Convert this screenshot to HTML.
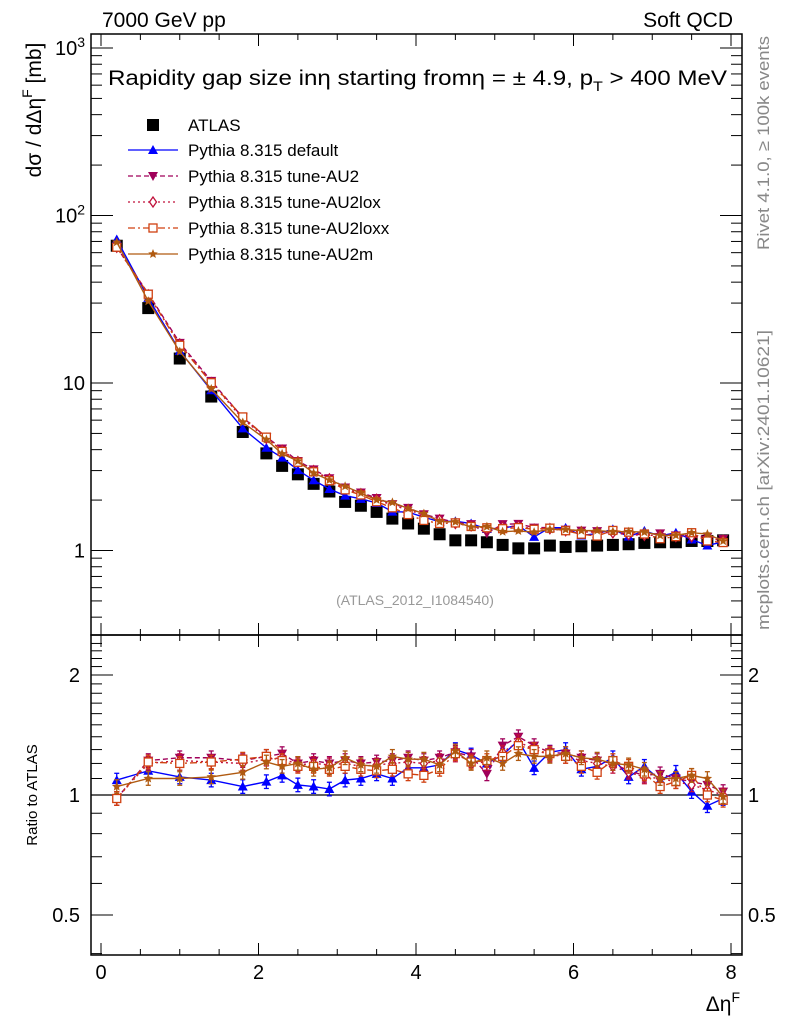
<!DOCTYPE html>
<html><head><meta charset="utf-8">
<style>
body{margin:0;background:#fff;}
svg{display:block;font-family:"Liberation Sans",sans-serif;}
</style></head>
<body>
<svg id="c" width="786" height="1024" viewBox="0 0 786 1024"></svg>
<script>
const xs=[0.2,0.6,1.0,1.4,1.8,2.1,2.3,2.5,2.7,2.9,3.1,3.3,3.5,3.7,3.9,4.1,4.3,4.5,4.7,4.9,5.1,5.3,5.5,5.7,5.9,6.1,6.3,6.5,6.7,6.9,7.1,7.3,7.5,7.7,7.9];
const atlas=[66,28,14,8.3,5.1,3.8,3.2,2.85,2.5,2.25,1.95,1.85,1.7,1.55,1.45,1.35,1.25,1.15,1.15,1.12,1.08,1.03,1.03,1.07,1.05,1.06,1.07,1.08,1.09,1.11,1.12,1.12,1.14,1.14,1.15];
const rDefault=[1.09,1.15,1.11,1.09,1.05,1.08,1.12,1.06,1.05,1.035,1.09,1.10,1.13,1.10,1.17,1.17,1.19,1.30,1.26,1.20,1.26,1.37,1.17,1.28,1.30,1.16,1.18,1.24,1.11,1.18,1.09,1.14,1.02,0.94,0.98];
const rAU2=[0.98,1.22,1.24,1.24,1.22,1.25,1.27,1.20,1.22,1.20,1.22,1.20,1.21,1.22,1.24,1.22,1.24,1.28,1.25,1.13,1.33,1.40,1.33,1.28,1.27,1.24,1.22,1.20,1.15,1.12,1.13,1.10,1.08,1.06,1.02];
const rAU2lox=[0.98,1.20,1.22,1.21,1.20,1.23,1.24,1.19,1.20,1.19,1.20,1.18,1.19,1.20,1.21,1.20,1.22,1.26,1.22,1.20,1.28,1.36,1.30,1.26,1.25,1.22,1.20,1.18,1.14,1.11,1.10,1.08,1.06,1.03,1.00];
const rAU2loxx=[0.98,1.21,1.20,1.21,1.23,1.25,1.22,1.18,1.18,1.16,1.18,1.16,1.15,1.16,1.13,1.12,1.16,1.27,1.21,1.22,1.25,1.33,1.30,1.27,1.25,1.18,1.14,1.22,1.18,1.13,1.05,1.08,1.12,1.00,0.97];
const rAU2m=[1.05,1.10,1.10,1.11,1.14,1.21,1.18,1.20,1.16,1.17,1.24,1.19,1.18,1.25,1.23,1.23,1.19,1.29,1.20,1.24,1.20,1.27,1.25,1.25,1.27,1.24,1.23,1.20,1.19,1.16,1.10,1.10,1.12,1.10,0.99];
const xTicks=[0,2,4,6,8];
const yMainTicks=[1,10,100,1000];
const yRatioTicks=[0.5,1,2];

const svg=document.getElementById('c');
const NS='http://www.w3.org/2000/svg';
function mk(tag,at,parent){const e=document.createElementNS(NS,tag);for(const k in at)e.setAttribute(k,at[k]);(parent||svg).appendChild(e);return e;}
const L=91,R=742,T=34,M=635,B=955;
const X=v=>101+v*78.75;
const YM=v=>550.5-Math.log10(v)*167.5;
const YR=v=>795-Math.log10(v)*398.6;

let f1=mk('rect',{x:L,y:T,width:R-L,height:M-T,fill:'none',stroke:'#000','stroke-width':1.5});

let f2=mk('rect',{x:L,y:M,width:R-L,height:B-M,fill:'none',stroke:'#000','stroke-width':1.5});


const gx=mk('g',{stroke:'#000','stroke-width':1});

for(let v=0;v<=8.1;v+=0.5){const big=Math.abs(v-Math.round(v/2)*2)<1e-6;const len=big?12:6;const x=X(v);
 mk('line',{x1:x,x2:x,y1:T,y2:T+len},gx);mk('line',{x1:x,x2:x,y1:M,y2:M-len},gx);
 mk('line',{x1:x,x2:x,y1:M,y2:M+len},gx);mk('line',{x1:x,x2:x,y1:B,y2:B-len},gx);}
xTicks.forEach(v=>{const t=mk('text',{x:X(v),y:979,'font-size':20,'text-anchor':'middle'});t.textContent=v;
 });
const xl=mk('text',{x:740,y:1011,'font-size':21,'text-anchor':'end'});xl.innerHTML='Δη<tspan dy="-9" font-size="14">F</tspan>';


const gy=mk('g',{stroke:'#000','stroke-width':1});

for(let d=-1;d<=3;d++)for(let m=1;m<=9;m++){const v=m*Math.pow(10,d);const y=YM(v);if(y<T||y>M)continue;const len=m==1?22:11;
 mk('line',{x1:L,x2:L+len,y1:y,y2:y},gy);mk('line',{x1:R,x2:R-len,y1:y,y2:y},gy);}
yMainTicks.forEach(v=>{const t=mk('text',{x:85,y:YM(v)+7,'font-size':20,'text-anchor':'end'});
 if(v>=100)t.innerHTML='10<tspan dy="-8" font-size="14">'+Math.log10(v)+'</tspan>';else t.textContent=v;
 });
for(let v=0.4;v<=2.5;v+=0.1){const y=YR(v);if(y<M||y>B)continue;const big=[0.5,1,2].some(k=>Math.abs(k-v)<1e-6);const len=big?22:11;
 mk('line',{x1:L,x2:L+len,y1:y,y2:y},gy);mk('line',{x1:R,x2:R-len,y1:y,y2:y},gy);}
yRatioTicks.forEach(v=>{[[80,'end'],[748,'start']].forEach(([x,a])=>{const t=mk('text',{x:x,y:YR(v)+7,'font-size':20,'text-anchor':a});t.textContent=v;
 });});
const one=mk('line',{x1:L,x2:R,y1:YR(1),y2:YR(1),stroke:'#000','stroke-width':1.2});


function txt(s,at,name){const t=mk('text',at);t.innerHTML=s;return t;}
txt('7000 GeV pp',{x:102,y:27,'font-size':21},'energy-label');
txt('Soft QCD',{x:733,y:27,'font-size':21,'text-anchor':'end'},'process-label');
txt('Rapidity gap size inη starting fromη = ± 4.9, p<tspan dy="6" font-size="14">T</tspan><tspan dy="-6"> &gt; 400 MeV</tspan>',{x:108,y:85,'font-size':21,'textLength':619,'lengthAdjust':'spacingAndGlyphs'},'plot-title');
txt('dσ / dΔη<tspan dy="-9" font-size="14">F</tspan><tspan dy="9"> [mb]</tspan>',{x:0,y:0,'font-size':21,'text-anchor':'middle',transform:'translate(41,110) rotate(-90)'},'y-axis-title');
txt('Ratio to ATLAS',{x:0,y:0,'font-size':15,'text-anchor':'middle',transform:'translate(37,795) rotate(-90)'},'ratio-axis-title');
txt('Rivet 4.1.0, ≥ 100k events',{x:0,y:0,'font-size':17,'fill':'#888','text-anchor':'end','textLength':214,'lengthAdjust':'spacingAndGlyphs',transform:'translate(769,36) rotate(-90)'},'rivet-label');
txt('mcplots.cern.ch [arXiv:2401.10621]',{x:0,y:0,'font-size':17,'fill':'#888','text-anchor':'end','textLength':300,'lengthAdjust':'spacingAndGlyphs',transform:'translate(769,330) rotate(-90)'},'mcplots-label');
txt('(ATLAS_2012_I1084540)',{x:415,y:605,'font-size':14,'fill':'#999','text-anchor':'middle'},'analysis-id');

function marker(g,type,x,y,col,s){
 if(type=='sq')return mk('rect',{x:x-s,y:y-s,width:2*s,height:2*s,fill:col},g);
 if(type=='up')return mk('polygon',{points:`${x},${y-s} ${x-s},${y+s*0.8} ${x+s},${y+s*0.8}`,fill:col},g);
 if(type=='dn')return mk('polygon',{points:`${x},${y+s} ${x-s},${y-s*0.8} ${x+s},${y-s*0.8}`,fill:col},g);
 if(type=='dia')return mk('polygon',{points:`${x},${y-s} ${x+s*0.7},${y} ${x},${y+s} ${x-s*0.7},${y}`,fill:'#fff',stroke:col,'stroke-width':1.3},g);
 if(type=='osq')return mk('rect',{x:x-s*0.8,y:y-s*0.8,width:1.6*s,height:1.6*s,fill:'#fff',stroke:col,'stroke-width':1.3},g);
 if(type=='star'){let p=[];for(let i=0;i<10;i++){const r=i%2?s*0.45:s;const a=-Math.PI/2+i*Math.PI/5;p.push((x+r*Math.cos(a)).toFixed(1)+','+(y+r*Math.sin(a)).toFixed(1));}
  return mk('polygon',{points:p.join(' '),fill:col},g);}
}
const series=[
 {n:'default',r:rDefault,col:'#0000ff',m:'up',dash:'',lab:'Pythia 8.315 default'},
 {n:'au2',r:rAU2,col:'#a0005a',m:'dn',dash:'5,3',lab:'Pythia 8.315 tune-AU2'},
 {n:'au2lox',r:rAU2lox,col:'#c0103a',m:'dia',dash:'2,3',lab:'Pythia 8.315 tune-AU2lox'},
 {n:'au2loxx',r:rAU2loxx,col:'#d04010',m:'osq',dash:'7,3,2,3',lab:'Pythia 8.315 tune-AU2loxx'},
 {n:'au2m',r:rAU2m,col:'#b05a10',m:'star',dash:'',lab:'Pythia 8.315 tune-AU2m'}];

const ga=mk('g',{});
xs.forEach((x,i)=>{const e=marker(ga,'sq',X(x),YM(atlas[i]),'#000',6);
 });

series.forEach(s=>{
 const vals=s.r.map((r,i)=>r*atlas[i]);
 const g=mk('g',{});
 const pl=mk('polyline',{points:xs.map((x,i)=>X(x)+','+YM(vals[i])).join(' '),fill:'none',stroke:s.col,'stroke-width':1.4,'stroke-dasharray':s.dash},g);
 
 xs.forEach((x,i)=>{const e=marker(g,s.m,X(x),YM(vals[i]),s.col,5);});
 const gr=mk('g',{});
 const pr=mk('polyline',{points:xs.map((x,i)=>X(x)+','+YR(s.r[i])).join(' '),fill:'none',stroke:s.col,'stroke-width':1.4,'stroke-dasharray':s.dash},gr);
 
 xs.forEach((x,i)=>{const xx=X(x),y1=YR(s.r[i]*1.04),y2=YR(s.r[i]/1.04);
  mk('line',{x1:xx,x2:xx,y1:y1,y2:y2,stroke:s.col,'stroke-width':1.3},gr);
  mk('line',{x1:xx-2.5,x2:xx+2.5,y1:y1,y2:y1,stroke:s.col,'stroke-width':1.3},gr);
  mk('line',{x1:xx-2.5,x2:xx+2.5,y1:y2,y2:y2,stroke:s.col,'stroke-width':1.3},gr);
  const e=marker(gr,s.m,xx,YR(s.r[i]),s.col,5);});
});

const lg=mk('g',{});
const le0=mk('g',{},lg);
marker(le0,'sq',153,125,'#000',6);
const t0=mk('text',{x:188,y:131,'font-size':17},le0);t0.textContent='ATLAS';
series.forEach((s,i)=>{const y=150+i*26;
 const le=mk('g',{},lg);
 mk('line',{x1:128,x2:178,y1:y,y2:y,stroke:s.col,'stroke-width':1.3,'stroke-dasharray':s.dash},le);
 marker(le,s.m,153,y,s.col,5);
 const t=mk('text',{x:188,y:y+6,'font-size':17},le);t.textContent=s.lab;});
</script>
</body></html>
